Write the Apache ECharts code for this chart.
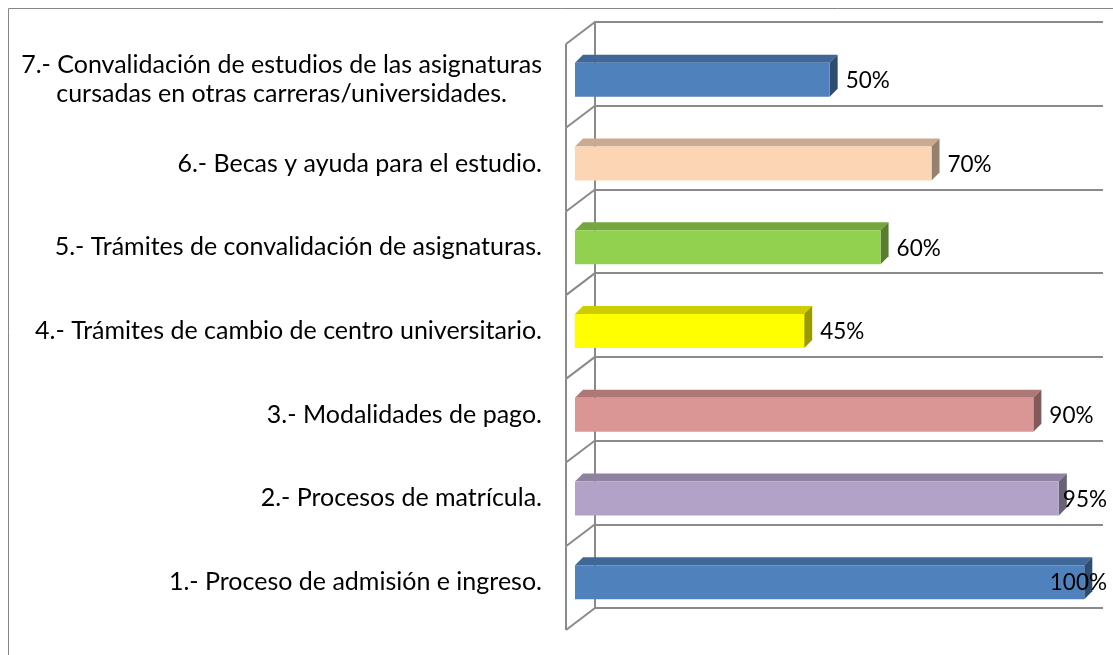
<!DOCTYPE html>
<html>
<head>
<meta charset="utf-8">
<script src="https://cdn.jsdelivr.net/npm/echarts@6/dist/echarts.min.js"></script>
<style>
html,body{margin:0;padding:0;background:#fff;}
#chart{width:1113px;height:655px;}
</style>
</head>
<body>
<div id="chart"></div>
<script>
// ---- data ----
const categories = [
  '1.- Proceso de admisión e ingreso.',
  '2.- Procesos de matrícula.',
  '3.- Modalidades de pago.',
  '4.- Trámites de cambio de centro universitario.',
  '5.- Trámites de convalidación de asignaturas.',
  '6.- Becas y ayuda para el estudio.',
  '7.- Convalidación de estudios de las asignaturas\ncursadas en otras carreras/universidades.'
];
const values = [100, 95, 90, 45, 60, 70, 50];
const frontColors = ['#4F81BD', '#B3A2C7', '#D99694', '#FFFF00', '#92D050', '#FCD5B5', '#4F81BD'];
const topColors   = ['#3F6797', '#8F829F', '#AE7876', '#CCCC00', '#75A640', '#CAAA91', '#3F6797'];
const sideColors  = ['#2F4D71', '#6B6177', '#825A59', '#999900', '#587D30', '#97806D', '#2F4D71'];

// ---- styles ----
const FONT = 'Lato';
const FS = 25;      // category labels
const VFS = 22.5;   // value labels
const gridColor = '#8A8A8A';

const measureCtx = document.createElement('canvas').getContext('2d');
function textWidth(t) {
  measureCtx.font = VFS + 'px ' + FONT;
  return measureCtx.measureText(t).width;
}

const chart = echarts.init(document.getElementById('chart'), null, {renderer: 'canvas'});

const option = {
  backgroundColor: '#ffffff',
  animation: false,
  graphic: [{
    type: 'rect',
    shape: {x: 8.5, y: 8.5, width: 1300, height: 900},
    style: {fill: 'none', stroke: '#868686', lineWidth: 1},
    silent: true,
    z: -10
  }],
  grid: [
    {left: 595, top: 22, right: 10, height: 586},
    {left: 575, top: 38, width: 509.3, height: 586}
  ],
  xAxis: [
    {gridIndex: 0, type: 'value', min: 0, max: 100, show: false},
    {gridIndex: 1, type: 'value', min: 0, max: 100, show: false}
  ],
  yAxis: [
    {
      gridIndex: 0, type: 'category', data: categories,
      axisLine: {show: true, lineStyle: {color: gridColor, width: 2}},
      axisTick: {show: false},
      axisLabel: {show: false},
      splitLine: {show: true, interval: 0, lineStyle: {color: gridColor, width: 2}}
    },
    {
      gridIndex: 1, type: 'category', data: categories,
      axisLine: {show: false},
      axisTick: {show: false},
      splitLine: {show: false},
      axisLabel: {
        interval: 0,
        margin: 33,
        color: '#000',
        fontFamily: FONT,
        fontSize: FS,
        lineHeight: 29,
        formatter: function (val) {
          if (val.indexOf('\n') >= 0) {
            return val.split('\n').map(function (s) { return '{c|' + s + '}'; }).join('\n');
          }
          return val;
        },
        rich: {c: {align: 'center', fontFamily: FONT, fontSize: FS, lineHeight: 29, color: '#000'}}
      }
    }
  ],
  series: [
    {
      type: 'custom',
      xAxisIndex: 0, yAxisIndex: 0,
      silent: true,
      z: 1,
      data: categories.map(function (c, i) { return [0, i]; }),
      renderItem: function (params, api) {
        const i = api.value(1);
        const p = api.coord([0, i]);
        const band = api.size([0, 1])[1];
        const top = p[1] - band / 2, bottom = p[1] + band / 2;
        const x0 = p[0], dx = -29, dy = 22;
        const st = {stroke: gridColor, lineWidth: 2};
        const children = [
          {type: 'line', shape: {x1: x0, y1: top, x2: x0 + dx, y2: top + dy}, style: st},
          {type: 'line', shape: {x1: x0 + dx, y1: top + dy, x2: x0 + dx, y2: bottom + dy}, style: st}
        ];
        if (i === 0) {
          children.push({type: 'line', shape: {x1: x0, y1: bottom, x2: x0 + dx, y2: bottom + dy}, style: st});
        }
        return {type: 'group', children: children};
      }
    },
    {
      type: 'custom',
      xAxisIndex: 1, yAxisIndex: 1,
      z: 5,
      data: values.map(function (v, i) { return [v, i]; }),
      encode: {x: 0, y: 1},
      renderItem: function (params, api) {
        const v = api.value(0), i = api.value(1);
        const p0 = api.coord([0, i]);
        const p1 = api.coord([v, i]);
        const h = 34, dx = 8, dy = -8;
        const y0 = p0[1] - h / 2, y1 = y0 + h;
        const xa = p0[0], xb = p1[0];
        const label = v + '%';
        const w = textWidth(label);
        const limit = api.getWidth() - 6;
        let lx = xb + 16, align = 'left';
        if (lx + w > limit) { lx = limit; align = 'right'; }
        return {
          type: 'group',
          children: [
            {type: 'polygon', shape: {points: [[xa, y0], [xa + dx, y0 + dy], [xb + dx, y0 + dy], [xb, y0]]},
              style: {fill: topColors[i]}},
            {type: 'polygon', shape: {points: [[xb, y0], [xb + dx, y0 + dy], [xb + dx, y1 + dy], [xb, y1]]},
              style: {fill: sideColors[i]}},
            {type: 'rect', shape: {x: xa, y: y0, width: xb - xa, height: h},
              style: {fill: frontColors[i]}},
            {type: 'text', z2: 10, style: {text: label, x: lx, y: p0[1] + 1, align: align, verticalAlign: 'middle',
              fill: '#000', fontSize: VFS, fontFamily: FONT}}
          ]
        };
      }
    }
  ]
};
chart.setOption(option);
</script>
</body>
</html>
